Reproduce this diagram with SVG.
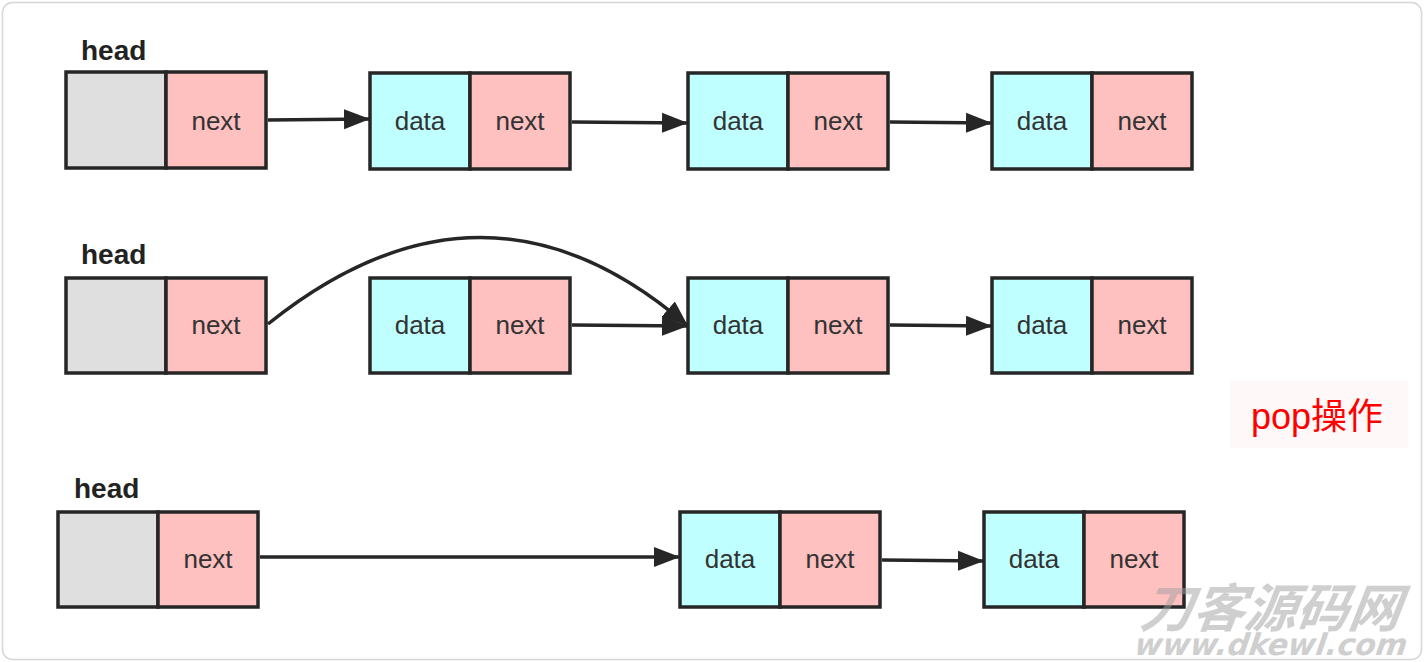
<svg xmlns="http://www.w3.org/2000/svg" width="1424" height="662" viewBox="0 0 1424 662">
<defs>
<style>
.cell{stroke:#262626;stroke-width:3.5}
.g{fill:#dfdfdf}.c{fill:#c0ffff}.p{fill:#ffc0c0}
.t{font-family:"Liberation Sans",Arial,sans-serif;font-size:26px;fill:#333;text-anchor:middle}
.h{font-family:"Liberation Sans",Arial,sans-serif;font-size:28px;font-weight:bold;fill:#222}
.e{fill:none;stroke:#262626;stroke-width:3.5}
</style>
<marker id="ar" markerUnits="userSpaceOnUse" markerWidth="28" markerHeight="22" refX="26" refY="11" orient="auto">
<path d="M0,1 L26,11 L0,21 Z" fill="#262626"/>
</marker>
</defs>
<rect x="2.5" y="2.5" width="1419" height="657" rx="10" fill="#fff" stroke="#d6d6d6" stroke-width="1.5"/>

<g id="row1">
<g id="head1"><text class="h" x="81" y="60">head</text>
<rect class="cell g" x="66" y="72" width="100" height="96"/><rect class="cell p" x="166" y="72" width="100" height="96"/><text class="t" x="216" y="130">next</text></g>
<g id="n1a"><rect class="cell c" x="370" y="73" width="100" height="96"/><rect class="cell p" x="470" y="73" width="100" height="96"/><text class="t" x="420" y="130">data</text><text class="t" x="520" y="130">next</text></g>
<g id="n1b"><rect class="cell c" x="688" y="73" width="100" height="96"/><rect class="cell p" x="788" y="73" width="100" height="96"/><text class="t" x="738" y="130">data</text><text class="t" x="838" y="130">next</text></g>
<g id="n1c"><rect class="cell c" x="992" y="73" width="100" height="96"/><rect class="cell p" x="1092" y="73" width="100" height="96"/><text class="t" x="1042" y="130">data</text><text class="t" x="1142" y="130">next</text></g>
</g>

<g id="row2">
<g id="head2"><text class="h" x="81" y="264">head</text>
<rect class="cell g" x="66" y="278" width="100" height="95"/><rect class="cell p" x="166" y="278" width="100" height="95"/><text class="t" x="216" y="334">next</text></g>
<g id="n2a"><rect class="cell c" x="370" y="278" width="100" height="95"/><rect class="cell p" x="470" y="278" width="100" height="95"/><text class="t" x="420" y="334">data</text><text class="t" x="520" y="334">next</text></g>
<g id="n2b"><rect class="cell c" x="688" y="278" width="100" height="95"/><rect class="cell p" x="788" y="278" width="100" height="95"/><text class="t" x="738" y="334">data</text><text class="t" x="838" y="334">next</text></g>
<g id="n2c"><rect class="cell c" x="992" y="278" width="100" height="95"/><rect class="cell p" x="1092" y="278" width="100" height="95"/><text class="t" x="1042" y="334">data</text><text class="t" x="1142" y="334">next</text></g>
</g>

<g id="row3">
<g id="head3"><text class="h" x="74" y="498">head</text>
<rect class="cell g" x="58" y="512" width="100" height="95"/><rect class="cell p" x="158" y="512" width="100" height="95"/><text class="t" x="208" y="568">next</text></g>
<g id="n3a"><rect class="cell c" x="680" y="512" width="100" height="95"/><rect class="cell p" x="780" y="512" width="100" height="95"/><text class="t" x="730" y="568">data</text><text class="t" x="830" y="568">next</text></g>
<g id="n3b"><rect class="cell c" x="984" y="512" width="100" height="95"/><rect class="cell p" x="1084" y="512" width="100" height="95"/><text class="t" x="1034" y="568">data</text><text class="t" x="1134" y="568">next</text></g>
</g>

<g id="connectors">
<path class="e" d="M268,120 L370,119" marker-end="url(#ar)"/>
<path class="e" d="M572,122 L688,123" marker-end="url(#ar)"/>
<path class="e" d="M890,122 L992,123" marker-end="url(#ar)"/>
<path class="e" d="M268,324 Q485,150 688,326" marker-end="url(#ar)"/>
<path class="e" d="M572,325 L688,326" marker-end="url(#ar)"/>
<path class="e" d="M890,325 L992,326" marker-end="url(#ar)"/>
<path class="e" d="M260,557 L680,557" marker-end="url(#ar)"/>
<path class="e" d="M882,560 L984,561" marker-end="url(#ar)"/>
</g>

<g id="label">
<rect x="1230" y="381" width="178" height="67" fill="#fff8f8"/>
<text x="1317" y="429" font-family="'Liberation Sans','Noto Sans CJK SC',sans-serif" font-size="36" fill="#ff0000" text-anchor="middle">pop操作</text>
</g>

<g id="watermark" opacity="0.5" fill="#a0a0a0" font-weight="bold" font-style="italic">
<text x="1278" y="627" font-size="52" text-anchor="middle" font-family="'Noto Sans CJK SC',sans-serif" transform="skewX(-8) translate(79,0)">刀客源码网</text>
<text x="1278" y="655" font-size="30" text-anchor="middle" font-family="'DejaVu Sans',sans-serif" transform="skewX(-8) translate(84,0)">www.dkewl.com</text>
</g>
</svg>
